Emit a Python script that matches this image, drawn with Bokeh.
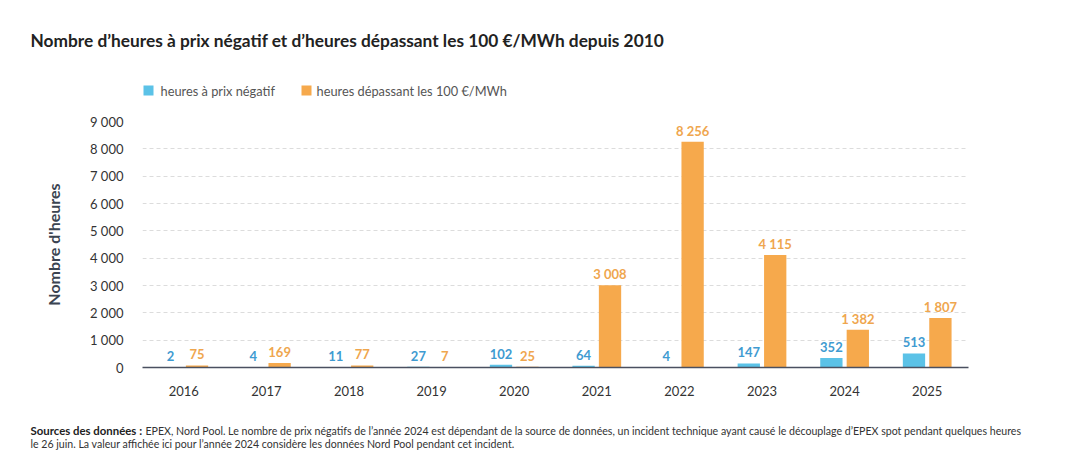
from bokeh.plotting import figure
from bokeh.layouts import column
from bokeh.models import (ColumnDataSource, Range1d, FactorRange, LabelSet,
                          CustomJSTickFormatter, FixedTicker)
from bokeh.core.properties import value
from bokeh.transform import dodge
from bokeh.embed import file_html
from bokeh.resources import INLINE

years = ["2016", "2017", "2018", "2019", "2020", "2021", "2022", "2023", "2024", "2025"]
neg_hours = [2, 4, 11, 27, 102, 64, 4, 147, 352, 513]
high_hours = [75, 169, 77, 7, 25, 3008, 8256, 4115, 1382, 1807]
y_ticks = [0, 1000, 2000, 3000, 4000, 5000, 6000, 7000, 8000, 9000]

title_text = "Nombre d\u2019heures à prix négatif et d\u2019heures dépassant les 100 €/MWh depuis 2010"
legend_labels = ["heures à prix négatif", "heures dépassant les 100 €/MWh"]
y_label = "Nombre d'heures"
note_bold = "Sources des données :"
note_line1 = ("EPEX, Nord Pool. Le nombre de prix négatifs de l\u2019année 2024 est dépendant de la source de données, "
              "un incident technique ayant causé le découplage d\u2019EPEX spot pendant quelques heures")
note_line2 = "le 26 juin. La valeur affichée ici pour l\u2019année 2024 considère les données Nord Pool pendant cet incident."

BLUE = "#5bc2e7"
ORANGE = "#f6a94c"
BLUE_TXT = "#3f9bd1"
ORANGE_TXT = "#efa64e"
FONT = "Lato"
W = 1088
TOP_H = 105
MAIN_H = 300
BOT_H = 61


def fmt(v):
    return f"{v:,}".replace(",", " ")


def blank_fig(h):
    f = figure(width=W, height=h, x_range=Range1d(0, W), y_range=Range1d(h, 0),
               x_axis_type=None, y_axis_type=None, output_backend="svg",
               toolbar_location=None, min_border=0, frame_align=False)
    f.outline_line_color = None
    f.xgrid.visible = False
    f.ygrid.visible = False
    return f


# ---- header: title + legend ----
top = blank_fig(TOP_H)
top.text(x=[30], y=[40], text=[title_text], text_font=value(FONT), text_font_size="17.3px",
         text_font_style="bold", text_color="#222222", text_baseline="middle", text_align="left")
top.scatter(x=[148, 306], y=[90, 90], marker="square", size=10, color=[BLUE, ORANGE], line_color=None)
top.text(x=[160, 316], y=[90, 90], text=legend_labels, text_font=value(FONT), text_font_size="12.8px",
         text_color="#555555", text_baseline="middle", text_align="left")

# ---- main chart ----
src = ColumnDataSource(dict(
    year=years, neg=neg_hours, high=high_hours,
    neg_lbl=[fmt(v) for v in neg_hours], high_lbl=[fmt(v) for v in high_hours],
))

p = figure(width=W, height=MAIN_H, x_range=FactorRange(*years), y_range=Range1d(0, 9000),
           output_backend="svg", toolbar_location=None, frame_align=False,
           min_border_left=142, min_border_right=W - 968, min_border_top=16, min_border_bottom=38)
p.outline_line_color = None

p.vbar(x=dodge("year", -0.16, range=p.x_range), top="neg", width=0.27,
       source=src, color=BLUE, line_color=None)
p.vbar(x=dodge("year", 0.16, range=p.x_range), top="high", width=0.27,
       source=src, color=ORANGE, line_color=None)

for col, lbl, off, c in [("neg", "neg_lbl", -0.16, BLUE_TXT), ("high", "high_lbl", 0.16, ORANGE_TXT)]:
    p.add_layout(LabelSet(x=dodge("year", off, range=p.x_range), y=col, text=lbl, source=src,
                          y_offset=6, text_align="center", text_baseline="alphabetic",
                          text_font=value(FONT), text_font_size="13px", text_font_style="bold",
                          text_color=c))

p.yaxis.ticker = FixedTicker(ticks=y_ticks)
p.yaxis.formatter = CustomJSTickFormatter(
    code="return tick.toFixed(0).replace(/\\B(?=(\\d{3})+(?!\\d))/g, ' ');")
p.yaxis.axis_line_color = None
p.yaxis.major_tick_line_color = None
p.yaxis.minor_tick_line_color = None
p.yaxis.major_label_text_font = FONT
p.yaxis.major_label_text_font_size = "13px"
p.yaxis.major_label_text_color = "#333333"
p.yaxis.major_label_standoff = 13
p.yaxis.axis_label = y_label
p.yaxis.axis_label_text_font = FONT
p.yaxis.axis_label_text_font_size = "16px"
p.yaxis.axis_label_text_font_style = "bold"
p.yaxis.axis_label_text_color = "#3b4451"
p.yaxis.axis_label_standoff = 24

p.xaxis.axis_line_color = "#4a5060"
p.xaxis.axis_line_width = 1.5
p.xaxis.major_tick_line_color = None
p.xaxis.minor_tick_line_color = None
p.xaxis.major_label_text_font = FONT
p.xaxis.major_label_text_font_size = "13px"
p.xaxis.major_label_text_color = "#333333"
p.xaxis.major_label_standoff = 12

p.xgrid.grid_line_color = None
p.ygrid.grid_line_color = "#dcdcdc"
p.ygrid.grid_line_dash = "4 3"

# ---- footnote ----
bot = blank_fig(BOT_H)
y0 = 430 - (TOP_H + MAIN_H)
bot.text(x=[30], y=[y0], text=[note_bold], text_font=value(FONT), text_font_size="11.4px",
         text_font_style="bold", text_color="#222222", text_baseline="middle", text_align="left")
bot.text(x=[145, 30], y=[y0, y0 + 13], text=[note_line1, note_line2], text_font=value(FONT),
         text_font_size="10.6px", text_color="#333333", text_baseline="middle", text_align="left")

layout = column(top, p, bot, spacing=0)
open("out.html", "w").write(file_html(layout, INLINE))
